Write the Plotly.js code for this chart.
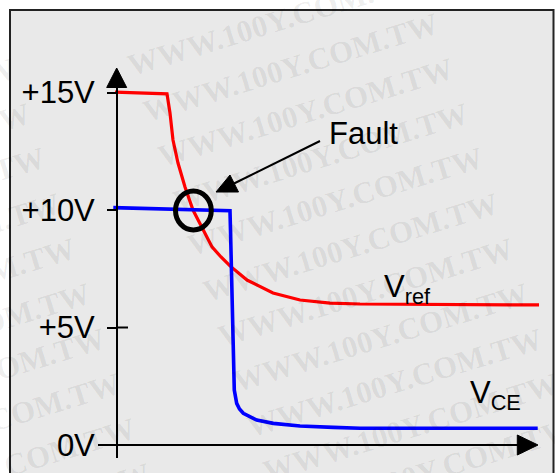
<!DOCTYPE html>
<html><head><meta charset="utf-8">
<script src="https://cdn.plot.ly/plotly-3.0.1.min.js"></script>
<style>html,body{margin:0;padding:0;background:#fff;}#chart{width:555px;height:473px;}</style>
</head><body><div id="chart"></div>
<script>
// ---- data ----
const tickValues = [0, 5, 10, 15];
const tickLabels = ['0V', '+5V', '+10V', '+15V'];
const vrefTime  = [-0.47, 11.87, 12.58, 13.29, 14.48, 16.14, 18.04, 20.41, 22.55, 24.69, 26.82, 30.86, 37.03, 43.44, 50.56, 57.68, 100.17];
const vrefVolts = [15.02, 14.94, 14.13, 12.98, 12.00, 10.98, 10.00, 9.15, 8.43, 8.00, 7.62, 7.02, 6.47, 6.17, 6.04, 6.00, 5.96];
const vceTime   = [-0.88, 26.82, 26.94, 27.60, 27.65, 27.84, 28.41, 29.08, 29.98, 33.16, 37.10, 43.44, 51.34, 57.68, 99.86];
const vceVolts  = [10.10, 9.97, 9.15, 4.89, 3.19, 2.34, 1.77, 1.53, 1.35, 1.06, 0.92, 0.81, 0.75, 0.71, 0.71];
const seriesNames = ['V<sub>ref</sub>', 'V<sub>CE</sub>'];
const faultLabel = 'Fault';
const watermarkText = 'WWW.100Y.COM.TW';

// ---- geometry ----
const W = 555, H = 473;
const x0px = 117, x100px = 538.3, kx = (x100px - x0px) / 100;
const y0px = 445, kv = 23.5;
const xr = [-x0px / kx, (W - x0px) / kx];
const yr = [-(H - y0px) / kv, y0px / kv];
const px = v => v / W;
const py = v => 1 - v / H;
const FONT = 'Liberation Sans, Arial, sans-serif';

function line(x0, y0, x1, y1, w, c) {
  return {type: 'line', xref: 'paper', yref: 'paper', x0: px(x0), y0: py(y0), x1: px(x1), y1: py(y1),
          line: {color: c || '#000', width: w}};
}
function tri(pts) {
  const d = 'M' + pts.map(p => px(p[0]) + ',' + py(p[1])).join(' L') + ' Z';
  return {type: 'path', xref: 'paper', yref: 'paper', path: d, fillcolor: '#000', line: {color: '#000', width: 1}};
}

const shapes = [
  {type: 'rect', xref: 'paper', yref: 'paper', x0: px(10), y0: py(10), x1: px(553.5), y1: py(495),
   fillcolor: '#e9e9e9', line: {color: '#222', width: 2}, layer: 'below'},
  line(117, 458, 117, 86, 2),
  tri([[106.7, 87.5], [126.7, 87.5], [116.7, 68]]),
  line(98, 445, 519, 445, 2),
  tri([[517.3, 435], [517.3, 455], [538, 445]]),
  line(117, 327.5, 128, 327.5, 2),
  line(320, 141, 233, 184, 2),
  tri([[216, 192], [238.5, 192], [230, 175]]),
  {type: 'circle', xref: 'paper', yref: 'paper', x0: px(175.5), x1: px(211.3), y0: py(191), y1: py(230),
   line: {color: '#000', width: 5}, layer: 'above'}
];

const annotations = [];
for (let k = -1; k <= 10; k++) {
  for (const off of [0, -438]) {
    const xe = 447 + 15 * k + off, ye = 27 + 45 * k;
    const cx = xe - 157, cy = ye + 40;
    if (cx < -140 || cx > 700 || cy > 520) continue;
    annotations.push({xref: 'paper', yref: 'paper', x: px(cx), y: py(cy), xanchor: 'center', yanchor: 'middle',
      text: watermarkText, showarrow: false, textangle: -17,
      font: {family: 'Liberation Serif, Times New Roman, serif', size: 31, color: 'rgba(0,0,0,0.07)', weight: 'bold'}});
  }
}
annotations.push(
  {xref: 'paper', yref: 'paper', x: px(327), y: py(133), xanchor: 'left', yanchor: 'middle', text: faultLabel,
   showarrow: false, font: {family: FONT, size: 31, color: '#000'}},
  {xref: 'paper', yref: 'paper', x: px(381.5), y: py(289), xanchor: 'left', yanchor: 'middle', text: seriesNames[0],
   showarrow: false, font: {family: FONT, size: 31, color: '#000'}},
  {xref: 'paper', yref: 'paper', x: px(468), y: py(395), xanchor: 'left', yanchor: 'middle', text: seriesNames[1],
   showarrow: false, font: {family: FONT, size: 31, color: '#000'}}
);

const traces = [
  {x: vrefTime, y: vrefVolts, mode: 'lines', name: 'Vref', line: {color: '#ff0000', width: 3.2}},
  {x: vceTime, y: vceVolts, mode: 'lines', name: 'VCE', line: {color: '#0000ff', width: 3.6}}
];

const layout = {
  width: W, height: H,
  margin: {l: 0, r: 0, t: 0, b: 0, pad: 0},
  paper_bgcolor: '#ffffff', plot_bgcolor: 'rgba(0,0,0,0)',
  showlegend: false,
  xaxis: {range: xr, showgrid: false, zeroline: false, showline: false, showticklabels: false, ticks: '', fixedrange: true},
  yaxis: {range: yr, anchor: 'free', position: x0px / W, tickvals: tickValues, ticktext: tickLabels,
          ticks: 'outside', ticklen: 10, tickwidth: 2, tickcolor: '#000', ticklabelstandoff: 6,
          showgrid: false, zeroline: false, showline: false, fixedrange: true,
          tickfont: {family: FONT, size: 31, color: '#000'}},
  shapes: shapes,
  annotations: annotations
};

Plotly.newPlot('chart', traces, layout, {displayModeBar: false, staticPlot: true});
</script>
</body></html>
